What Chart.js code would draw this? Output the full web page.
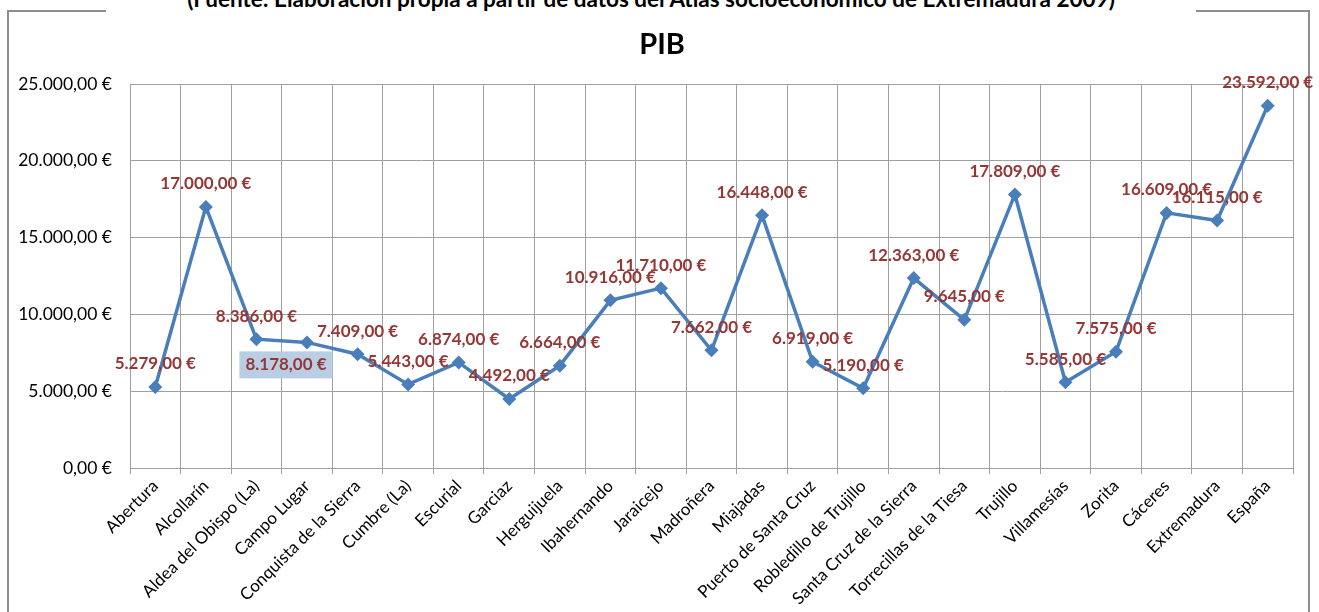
<!DOCTYPE html>
<html>
<head>
<meta charset="utf-8">
<title>PIB</title>
<script src="https://cdn.jsdelivr.net/npm/chart.js@4.4.1/dist/chart.umd.min.js"></script>
<style>
  html, body { margin: 0; padding: 0; background: #fff; overflow: hidden; }
  #wrap { position: relative; width: 1319px; height: 612px; }
  #frame {
    position: absolute; left: 7px; top: 10px; width: 1303px; height: 700px;
    border: 2px solid #8e8e8e; box-sizing: border-box;
  }
  #fuente {
    position: absolute; left: 106px; width: 1090px; top: -14px;
    text-align: center; background: #fff; white-space: nowrap;
    font: bold 22.5px Lato, sans-serif; color: #000; line-height: 26px;
  }
  #pibChart { position: absolute; left: 0; top: 0; }
</style>
</head>
<body>
<div id="wrap">
  <div id="frame"></div>
  <div id="fuente">(Fuente: Elaboración propia a partir de datos del Atlas socioeconómico de Extremadura 2009)</div>
  <canvas id="pibChart" width="1319" height="612"></canvas>
</div>
<script>
const municipios = [
  "Abertura", "Alcollarín", "Aldea del Obispo (La)", "Campo Lugar",
  "Conquista de la Sierra", "Cumbre (La)", "Escurial", "Garciaz",
  "Herguijuela", "Ibahernando", "Jaraicejo", "Madroñera", "Miajadas",
  "Puerto de Santa Cruz", "Robledillo de Trujillo", "Santa Cruz de la Sierra",
  "Torrecillas de la Tiesa", "Trujillo", "Villamesías", "Zorita",
  "Cáceres", "Extremadura", "España"
];
const pib = [
  5279, 17000, 8386, 8178, 7409, 5443, 6874, 4492, 6664, 10916, 11710,
  7662, 16448, 6919, 5190, 12363, 9645, 17809, 5585, 7575, 16609, 16115, 23592
];
const yTicks = [0, 5000, 10000, 15000, 20000, 25000];
const titulo = "PIB";

// 12345.6 -> "12.345,60 €"
function euros(v) {
  const parts = Math.abs(v).toFixed(2).split(".");
  const miles = parts[0].replace(/\B(?=(\d{3})+(?!\d))/g, ".");
  return (v < 0 ? "-" : "") + miles + "," + parts[1] + " €";
}

// etiqueta de Campo Lugar desplazada debajo del punto, con fondo
const etiquetaMovida = { 3: { dx: -21, dy: 22, fondo: "#b9cde5" } };

const etiquetas = {
  id: "etiquetas",
  afterDatasetsDraw(chart) {
    const ctx = chart.ctx;
    const meta = chart.getDatasetMeta(0);
    ctx.save();
    ctx.font = "bold 17px Lato, sans-serif";
    ctx.textAlign = "center";
    ctx.textBaseline = "middle";
    meta.data.forEach((pt, i) => {
      const txt = euros(pib[i]);
      let x = pt.x, y = pt.y - 23;
      const m = etiquetaMovida[i];
      if (m) {
        x = pt.x + m.dx;
        y = pt.y + m.dy;
        const w = ctx.measureText(txt).width + 12;
        ctx.fillStyle = m.fondo;
        ctx.fillRect(x - w / 2, y - 13, w, 27);
      }
      ctx.fillStyle = "#953735";
      ctx.fillText(txt, x, y);
    });
    ctx.restore();
  }
};

// título del gráfico, centrado sobre el marco
const tituloPlugin = {
  id: "tituloPlugin",
  afterDraw(chart) {
    const ctx = chart.ctx;
    ctx.save();
    ctx.font = "bold 29px Lato, sans-serif";
    ctx.fillStyle = "#000";
    ctx.textAlign = "center";
    ctx.textBaseline = "middle";
    ctx.fillText(titulo, 662, 45);
    ctx.restore();
  }
};

const ctx = document.getElementById("pibChart").getContext("2d");
new Chart(ctx, {
  type: "line",
  data: {
    labels: municipios,
    datasets: [{
      label: "PIB",
      data: pib,
      borderColor: "#4a7ebb",
      backgroundColor: "#4a7ebb",
      borderWidth: 3.5,
      tension: 0,
      pointStyle: "rectRot",
      pointRadius: 7,
      pointHoverRadius: 7,
      pointBackgroundColor: "#4a7ebb",
      pointBorderWidth: 0
    }]
  },
  options: {
    responsive: false,
    animation: false,
    layout: { padding: { top: 84, left: 0, right: 26, bottom: 0 } },
    plugins: {
      legend: { display: false },
      tooltip: { enabled: false },
      title: { display: false }
    },
    scales: {
      x: {
        offset: true,
        grid: { color: "#a0a0a0", lineWidth: 1, offset: true, tickLength: 6, tickColor: "#a0a0a0" },
        border: { color: "#a0a0a0" },
        ticks: {
          autoSkip: false,
          minRotation: 45,
          maxRotation: 45,
          padding: 2,
          color: "#000",
          font: { family: "Lato, sans-serif", size: 17 }
        },
        afterFit(s) { s.height = 144; }
      },
      y: {
        min: 0,
        max: 25000,
        afterBuildTicks(s) { s.ticks = yTicks.map(v => ({ value: v })); },
        grid: { color: "#a0a0a0", lineWidth: 1, drawTicks: false },
        border: { color: "#a0a0a0" },
        ticks: {
          padding: 18,
          color: "#000",
          font: { family: "Lato, sans-serif", size: 17.5 },
          callback: v => euros(v)
        },
        afterFit(s) { s.width = 130; }
      }
    }
  },
  plugins: [etiquetas, tituloPlugin]
});
</script>
</body>
</html>
